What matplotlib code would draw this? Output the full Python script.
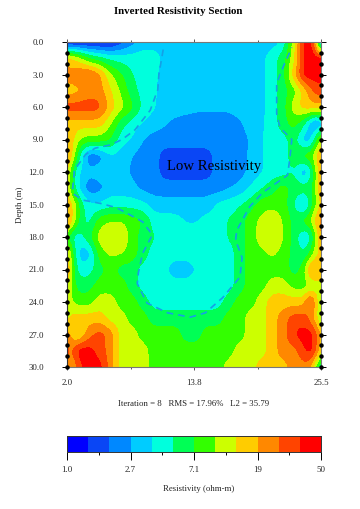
import matplotlib
matplotlib.use('Agg')
import matplotlib.pyplot as plt
from matplotlib.colors import ListedColormap, BoundaryNorm
import numpy as np

plt.rcParams['font.family'] = ['Liberation Serif', 'DejaVu Serif']

x_m = [2, 2.5, 3, 4, 5, 6, 7, 8, 9, 10, 11, 12, 13, 14, 15, 16, 17, 18, 19, 20, 21, 22, 23, 24, 24.5, 25, 25.5]
depth_m = [0, 1.5, 3, 4.5, 6, 7.5, 9, 10.5, 12, 13.5, 15, 16.5, 18, 19.5, 21, 22.5, 24, 25.5, 27, 28.5, 30]

# colour band of each model cell, 0 = 1.0 ohm-m ... 11 = 50 ohm-m
bands = [
    [0, 0, 0, 0, 0, 0, 1, 2, 3, 3, 3, 3, 3, 3, 3, 3, 3, 3, 3, 3, 3, 3.6, 7, 11, 11, 9, 0],
    [8, 7.5, 7, 5.5, 4.8, 4.2, 4, 4, 4, 4, 3.2, 3, 3, 3, 3, 3, 3, 3, 3, 3.2, 4, 5, 7, 11, 11, 11, 11],
    [9, 9, 9.4, 9.8, 8.7, 6.6, 5.6, 4.5, 4, 3.8, 3, 3, 3, 3, 3, 3, 3, 3, 3, 3.2, 4, 5, 8, 11, 11, 11, 11],
    [8, 8, 8.2, 9, 9, 7.6, 6.3, 4.9, 4.1, 3.7, 3, 3, 3, 3, 3, 3, 3, 3, 3, 3.2, 4, 5, 6, 8, 9, 10, 10],
    [10, 10, 10, 10, 9.8, 8, 6.8, 5.7, 4.2, 3.6, 3, 3, 2.9, 2.7, 2.7, 2.7, 2.7, 3, 3, 3.2, 4, 5, 7, 8, 8, 8, 8],
    [8, 8, 8, 8, 8, 6.6, 4.9, 4, 3.4, 3, 2.6, 2.2, 2, 2, 2, 2, 2, 2.3, 3, 3.3, 4, 5, 6, 4.5, 3, 1.5, 3],
    [8, 8, 6.5, 6, 6, 5.5, 3.9, 3.4, 2.5, 2, 2, 2, 2, 2, 2, 2, 2, 2, 2.6, 3.4, 4, 4, 5, 2.8, 2.8, 5, 7],
    [9, 7.5, 5, 1.6, 2, 3.4, 3, 2.5, 2, 2, 1, 1, 1, 1, 1, 2, 2, 2, 2.7, 3.4, 4, 4, 5, 6, 6, 7, 9],
    [8, 5, 3.6, 2.7, 3, 3, 2.9, 2.3, 2, 2, 1, 1, 1, 1, 1, 2, 2, 2, 2.8, 3.4, 4, 4, 4.6, 2.3, 4, 6, 9],
    [8, 5, 3.6, 1.8, 2.1, 3, 3, 2.8, 2.2, 2, 2, 2, 2, 2, 2, 2, 2.4, 2.8, 3.6, 4.4, 5, 6, 5, 5, 5, 6, 9],
    [8, 8, 5.5, 3.6, 3.6, 4, 4, 4, 3.8, 3, 2.9, 2.9, 2.9, 2.9, 2.9, 3.7, 4, 4.4, 5, 6, 6.2, 6, 4.4, 2.6, 5, 6, 8],
    [9, 7.5, 5.5, 4, 6, 6.5, 6.5, 6, 5.5, 4, 4, 3.9, 3.4, 3.4, 3.9, 4, 4.6, 5, 6, 6.8, 7.3, 6.4, 5, 6, 6, 8, 9],
    [6, 4, 4, 5, 7, 7.4, 7.4, 6, 5, 4.6, 4, 4, 4, 4, 4, 4, 4.6, 5, 6, 7, 7.4, 6.6, 5, 3.3, 4, 6, 9],
    [8, 6, 3, 2.8, 6, 6.7, 6.6, 6, 5, 4, 4, 4, 4, 4, 4, 4, 4, 5, 6, 6.2, 6.7, 6.1, 5, 4.5, 5.5, 7, 8],
    [9, 6, 4, 4, 5, 6, 5, 5, 4, 4, 3.8, 2.8, 2.8, 3.6, 4, 4, 4, 5, 6, 6, 6, 6, 5, 6, 9, 9, 8],
    [8, 6, 5, 5, 6, 6, 6, 5, 4, 4, 4, 4, 4, 4, 4, 4, 4, 5, 6, 6, 7, 7, 6, 6, 6.5, 7, 7],
    [7, 6.5, 6, 6, 7, 7, 6, 6, 5, 4, 4, 4, 4, 4, 4, 4, 5, 6, 6, 7, 8, 8, 8, 8, 10.6, 8, 6],
    [7, 8, 8, 8, 8, 7, 7, 6, 6, 5, 5, 5, 5, 5, 5, 5, 6, 6, 7, 7, 8, 9, 10, 10, 9, 8, 6],
    [9, 8, 7, 9, 10, 9, 7, 7, 6, 6, 6, 6, 5, 5, 6, 6, 6, 6, 7, 7, 8, 9, 10.5, 11, 11, 10, 8],
    [10, 9, 11, 11, 10, 9, 7, 7, 7, 6, 6, 6, 6, 6, 6, 6, 6, 7, 7, 7, 8, 9, 9, 10.4, 11, 10, 7],
    [9, 8, 10, 11, 11, 9, 7, 7, 7, 6, 6, 6, 6, 6, 6, 6, 7, 7, 7, 8, 8, 8, 9, 9, 9, 6, 4],
]

# dashed outline over the section
outline_x = [10.9, 10.5, 10.4, 9.7, 8.3, 7.1, 6.0, 4.6, 3.7, 2.7, 2.5, 2.7, 3.5, 5.1, 6.6, 9.0, 9.9, 9.0, 8.6, 8.5,
             9.4, 11.3, 13.4, 14.8, 16.4, 18.0, 18.2, 17.6, 17.7, 18.9, 20.1, 22.4, 22.6, 22.8, 21.7, 21.4, 21.4, 22.0, 22.8]
outline_d = [0.7, 3.0, 4.4, 6.3, 8.1, 9.0, 9.5, 9.8, 10.4, 11.8, 13.7, 14.1, 14.6, 14.9, 15.3, 16.6, 17.8, 19.5, 21.3, 22.3,
             24.1, 25.0, 25.4, 25.0, 23.6, 21.7, 19.9, 18.3, 17.4, 15.2, 13.9, 12.3, 10.9, 9.0, 7.9, 6.6, 3.8, 2.3, 0.5]

electrode_depth = list(range(1, 31))
depth_ticks = [0, 3, 6, 9, 12, 15, 18, 21, 24, 27, 30]
x_ticks = [2.0, 13.75, 25.5]
x_labels = ['2.0', '13.8', '25.5']
x_minor = [7.875, 19.625]
cbar_ticks = [0, 3, 6, 9, 12]
cbar_minor = [1.5, 4.5, 7.5, 10.5]
cbar_labels = ['1.0', '2.7', '7.1', '19', '50']
band_colors = ['#0000ff', '#0a46f5', '#0088ff', '#00ccff', '#00ffdd', '#00ff55',
               '#33ff00', '#ccff00', '#ffcc00', '#ff8800', '#ff4400', '#ff0000']

W, H = 360, 509
cmap = ListedColormap(band_colors)
edges = np.arange(13) - 0.5
norm = BoundaryNorm(edges, 12)


def smooth_field(xs, ys, values, step=0.25):
    # resample on an even mesh and soften, so the filled contours are not blocky
    fx = np.arange(xs[0], xs[-1] + step / 2, step)
    fy = np.arange(ys[0], ys[-1] + step / 2, step)
    rows = np.array([np.interp(fx, xs, r) for r in values])
    field = np.array([np.interp(fy, ys, c) for c in rows.T]).T
    kernel = np.array([1, 2, 3, 2, 1]) / 9
    for axis in (0, 1):
        pad = [(0, 0), (0, 0)]
        pad[axis] = (2, 2)
        padded = np.pad(field, pad, mode='edge')
        field = np.apply_along_axis(lambda m: np.convolve(m, kernel, mode='valid'), axis, padded)
    return fx, fy, field


fig = plt.figure(figsize=(W / 100, H / 100), dpi=100)
ax = fig.add_axes([67 / W, 1 - 367 / H, 254 / W, 325 / H])
fx, fy, field = smooth_field(x_m, depth_m, np.array(bands, dtype=float))
ax.contourf(fx, fy, field, levels=edges, cmap=cmap, norm=norm, extend='both')
ax.plot(outline_x, outline_d, color='#14a0e6', lw=1.2, ls=(0, (4, 3)))
ax.plot([2.0] * len(electrode_depth), electrode_depth, 'o', color='k', ms=2.2, clip_on=False, zorder=5)
ax.plot([25.5] * len(electrode_depth), electrode_depth, 'o', color='k', ms=2.2, clip_on=False, zorder=5)
ax.set_xlim(2.0, 25.5)
ax.set_ylim(30, 0)

ax.set_yticks(depth_ticks)
ax.set_yticklabels(['%.1f' % d for d in depth_ticks], fontsize=6.3, color='#222222')
ax.set_xticks(x_ticks)
ax.set_xticklabels(x_labels, fontsize=6.3, color='#222222')
ax.set_xticks(x_minor, minor=True)
ax.tick_params(axis='y', which='major', length=3.6, width=0.7, left=True, right=True, pad=13)
ax.tick_params(axis='x', which='major', length=2.5, width=0.7, top=True, bottom=True, pad=6, color='#555555')
ax.tick_params(axis='x', which='minor', length=1.5, width=0.7, top=True, bottom=True, color='#555555')
for side in ax.spines:
    ax.spines[side].set_linewidth(0.8)
    ax.spines[side].set_color('#777777')
ax.spines['left'].set_color('#333333')
ax.set_ylabel('Depth (m)', fontsize=6.3, color='#222222', labelpad=3)

fig.text(178 / W, 1 - 11 / H, 'Inverted Resistivity Section', fontsize=7.8, fontweight='bold',
         ha='center', va='center')
ax.text(15.65, 11.5, 'Low Resistivity', fontsize=10.6, ha='center', va='center', color='k')
fig.text(194 / W, 1 - 404 / H, 'Iteration = 8   RMS = 17.96%   L2 = 35.79', fontsize=6.3,
         ha='center', va='center', color='#222222')

cax = fig.add_axes([67 / W, 1 - 452 / H, 254 / W, 16 / H])
cax.pcolormesh(np.arange(13), [0, 1], np.arange(12).reshape(1, 12), cmap=cmap, norm=norm)
cax.set_xlim(0, 12)
cax.set_yticks([])
cax.set_xticks(cbar_ticks)
cax.set_xticklabels(cbar_labels, fontsize=6.3, color='#222222')
cax.set_xticks(cbar_minor, minor=True)
cax.tick_params(axis='x', which='major', length=5.5, width=0.7, pad=4.5)
cax.tick_params(axis='x', which='minor', length=2.5, width=0.7)
for side in cax.spines:
    cax.spines[side].set_linewidth(0.7)
    cax.spines[side].set_color('#333333')
fig.text(199 / W, 1 - 489 / H, 'Resistivity (ohm-m)', fontsize=6.3, ha='center', va='center', color='#222222')

fig.savefig('out.png', dpi=100)
